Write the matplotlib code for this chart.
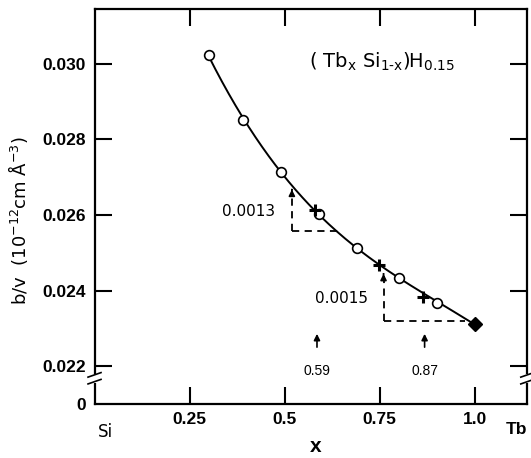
import numpy as np
import matplotlib
matplotlib.use("Agg")
import matplotlib.pyplot as plt
from matplotlib.transforms import blended_transform_factory

# ---- data ----
circle_x = [0.30, 0.39, 0.49, 0.59, 0.69, 0.80, 0.90]
circle_y = [0.03024, 0.02852, 0.02715, 0.02604, 0.02513, 0.02434, 0.02368]
cross_x = [0.58, 0.747, 0.865]
cross_y = [0.02613, 0.02469, 0.02382]
diamond_x = [1.0]
diamond_y = [0.02312]

xticks = [0.25, 0.5, 0.75, 1.0]
xticklabels = ["0.25", "0.5", "0.75", "1.0"]
yticks = [0.0210, 0.022, 0.024, 0.026, 0.028, 0.030]
yticklabels = ["0", "0.022", "0.024", "0.026", "0.028", "0.030"]

# slope triangles (annotation)
tri1_x = [0.519, 0.646]
tri1_y = [0.02675, 0.02557]
tri1_label = "0.0013"
tri2_x = [0.760, 0.975]
tri2_y = [0.02452, 0.02320]
tri2_label = "0.0015"

arrow_x = [0.585, 0.868]
arrow_labels = ["0.59", "0.87"]

tick_font = ['Liberation Sans', 'DejaVu Sans']

fig = plt.figure(figsize=(5.31, 4.58), dpi=100)
ax = fig.add_axes([0.178, 0.118, 0.815, 0.862])
ax.set_xlim(0.0, 1.138)
ax.set_ylim(0.02100, 0.03145)

# smooth curve from the measured points (polynomial fit)
fx = np.array(circle_x + diamond_x)
fy = np.array(circle_y + diamond_y)
coef = np.polyfit(fx, fy, 3)
xs = np.linspace(fx.min(), fx.max(), 200)
ax.plot(xs, np.polyval(coef, xs), color='black', lw=1.4, zorder=2)

ax.plot(circle_x, circle_y, 'o', ms=7, mfc='white', mec='black', mew=1.2, zorder=3)
ax.plot(cross_x, cross_y, '+', ms=9, mec='black', mew=2.2, zorder=4)
ax.plot(diamond_x, diamond_y, 'D', ms=7.5, color='black', zorder=4)

# triangles
for tx, ty in [(tri1_x, tri1_y), (tri2_x, tri2_y)]:
    ax.plot([tx[0], tx[0]], [ty[1], ty[0] - 0.00012], ls=(0, (4, 3)), color='black', lw=1.3)
    ax.plot([tx[0], tx[1]], [ty[1], ty[1]], ls=(0, (4, 3)), color='black', lw=1.3)
    ax.annotate('', xy=(tx[0], ty[0]), xytext=(tx[0], ty[0] - 0.00015),
                arrowprops=dict(arrowstyle='-|>', color='black', lw=1.2, mutation_scale=9))
ax.text(0.404, 0.0261, tri1_label, fontsize=11, ha='center', va='center')
ax.text(0.649, 0.0238, tri2_label, fontsize=11, ha='center', va='center')

# arrows with labels
for axx, lab in zip(arrow_x, arrow_labels):
    ax.annotate('', xy=(axx, 0.02293), xytext=(axx, 0.02243),
                arrowprops=dict(arrowstyle='-|>', color='black', lw=1.2, mutation_scale=9))
    ax.text(axx, 0.02188, lab, fontsize=10, ha='center', va='center', family=tick_font)

# title formula
ax.text(0.757, 0.03005, r'( Tb$_{\rm x}$ Si$_{\mathrm{1\text{-}x}}$)H$_{\rm 0.15}$',
        fontsize=14, ha='center', va='center')

# ticks
ax.set_xticks(xticks)
ax.set_xticklabels(xticklabels, family=tick_font, fontsize=12.5, fontweight='bold')
ax.set_yticks(yticks)
ax.set_yticklabels(yticklabels, family=tick_font, fontsize=12.5, fontweight='bold')
ax.tick_params(axis='both', direction='in', length=12, width=1.5, top=True, right=True,
               labeltop=False, labelright=False, pad=6)
ax.yaxis.get_major_ticks()[0].tick1line.set_visible(False)
ax.yaxis.get_major_ticks()[0].tick2line.set_visible(False)
for s in ax.spines.values():
    s.set_linewidth(1.6)

# axis break marks
trans = blended_transform_factory(ax.transAxes, ax.transData)
ybreak = 0.02168
for xb in [0.0, 1.0]:
    ax.plot([xb, xb], [ybreak - 0.00012, ybreak + 0.00012], color='white', lw=4,
            transform=trans, clip_on=False, zorder=5, solid_capstyle='butt')
    for dy in [-0.00009, 0.00009]:
        ax.plot([xb - 0.015, xb + 0.015], [ybreak + dy - 0.00006, ybreak + dy + 0.00006],
                color='black', lw=1.2, transform=trans, clip_on=False, zorder=6)

# labels
fig.text(0.034, 1 - 221 / 458, r'b/v  (10$^{-12}$cm $\mathrm{\AA}^{-3}$)', rotation=90,
         fontsize=13, ha='center', va='center')
fig.text(316 / 531, 1 - 446 / 458, 'x', fontsize=15, fontweight='bold', ha='center', va='center',
         family=tick_font)
fig.text(105 / 531, 1 - 432 / 458, 'Si', fontsize=12, ha='center', va='center')
fig.text(516 / 531, 1 - 429 / 458, 'Tb', fontsize=12.5, fontweight='bold', ha='center', va='center',
         family=tick_font)

fig.savefig('out.png', dpi=100)
